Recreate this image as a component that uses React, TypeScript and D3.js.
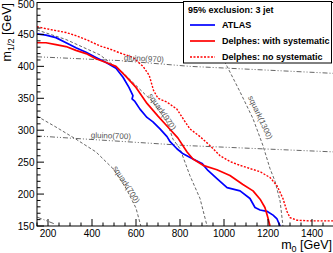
import React from "react";
import * as d3 from "d3";

// ---- data ----
const atlasM0 = [150, 191, 236, 282, 327, 373, 418, 464, 509, 541, 568, 586, 582, 595, 618, 650, 677, 709, 741, 755, 786, 814, 859, 900, 927, 968, 1014, 1073, 1118, 1141, 1164, 1195, 1223, 1241, 1255];
const atlasM12 = [451, 449, 445, 437, 429, 422, 414, 406, 397, 383, 367, 354, 349, 345, 333, 320, 313, 302, 290, 282, 271, 263, 255, 248, 237, 224, 210, 205, 193, 179, 175, 173, 167, 161, 150];

const sysM0 = [150, 191, 236, 282, 327, 373, 418, 464, 509, 555, 600, 650, 700, 750, 790, 832, 859, 905, 968, 1027, 1086, 1132, 1164, 1186, 1198, 1209];
const sysM12 = [437, 437, 434, 431, 425, 420, 412, 406, 400, 384, 367, 342, 322, 303, 288, 266, 255, 245, 238, 229, 215, 205, 192, 179, 165, 150];

const noSysM0 = [150, 191, 236, 282, 327, 373, 436, 482, 527, 586, 632, 660, 680, 700, 741, 786, 814, 845, 891, 936, 982, 1027, 1073, 1118, 1164, 1209, 1241, 1268, 1286, 1300, 1332, 1391, 1500];
const noSysM12 = [462, 459, 456, 453, 448, 442, 432, 427, 421, 414, 400, 386, 362, 350, 344, 333, 318, 302, 290, 276, 260, 251, 245, 240, 235, 226, 213, 193, 173, 163, 159, 158, 158];

const gluino970M0 = [150, 527, 845, 1500];
const gluino970M12 = [415, 409, 400, 389];
const gluino700M0 = [150, 827, 1500];
const gluino700M12 = [291, 276, 266];
const gluinoLowM0 = [150, 232];
const gluinoLowM12 = [164, 153];
const squark700M0 = [150, 236, 327, 418, 495, 555, 600, 622];
const squark700M12 = [322, 305, 286, 266, 240, 209, 178, 150];
const squark970M0 = [150, 282, 436, 541, 618, 677, 741, 768, 800, 845, 891, 923];
const squark970M12 = [457, 442, 418, 390, 364, 344, 313, 286, 271, 229, 193, 150];
const squark1300M0 = [830, 920, 1014, 1073, 1132, 1177, 1209, 1232, 1255, 1268];
const squark1300M12 = [500, 460, 400, 360, 318, 276, 240, 220, 189, 150];

const refLabelTexts = ["gluino(970)", "gluino(700)", "squark(700)", "squark(970)", "squark(1300)"];
const refLabelM0 = [636, 486, 555, 718, 1164];
const refLabelM12 = [412, 291, 215, 329, 320];
const refLabelAngles = [3, 2, 57, 55, 65];

const xMajorTicks = [200, 400, 600, 800, 1000, 1200, 1400];
const yMajorTicks = [150, 200, 250, 300, 350, 400, 450, 500];

const legendTitle = "95% exclusion: 3 jet";
const legendLabels = ["ATLAS", "Delphes: with systematic", "Delphes: no systematic"];

export default function App() {
  const W = 333, H = 253;
  const x = d3.scaleLinear().domain([150, 1500]).range([37, 334]);
  const y = d3.scaleLinear().domain([150, 500]).range([226, 2.5]);
  const line = d3.line<[number, number]>().x(d => x(d[0])).y(d => y(d[1]));
  const zip = (a: number[], b: number[]) => a.map((v, i) => [v, b[i]] as [number, number]);

  const xMinor = d3.range(150, 1501, 50).filter(v => !xMajorTicks.includes(v));
  const yMinor = d3.range(150, 501, 10).filter(v => !yMajorTicks.includes(v));

  const font = "'Liberation Sans', Arial, Helvetica, sans-serif";
  const grey = "#555";
  const x0 = x(150), yb = y(150), yt = y(500), xr = x(1500);

  const series = [
    { d: zip(atlasM0, atlasM12), color: "#0000ff", w: 1.7, dash: undefined as string | undefined },
    { d: zip(sysM0, sysM12), color: "#ff0000", w: 1.7, dash: undefined },
    { d: zip(noSysM0, noSysM12), color: "#ff0000", w: 1.4, dash: "2,1.5" },
  ];

  return (
    <svg width={W} height={H} style={{ position: "absolute", left: 0, top: 0, background: "#fff" }} fontFamily={font}>
      <rect x={0} y={0} width={W} height={H} fill="#fff" />
      <defs>
        <clipPath id="plot">
          <rect x={x0} y={yt} width={xr - x0} height={yb - yt} />
        </clipPath>
      </defs>
      <g clipPath="url(#plot)" fill="none">
        {/* reference contours */}
        <path d={line(zip(gluino970M0, gluino970M12)) || ""} stroke={grey} strokeWidth={0.9} strokeDasharray="5,2,1,2,1,2" />
        <path d={line(zip(gluino700M0, gluino700M12)) || ""} stroke={grey} strokeWidth={0.9} strokeDasharray="5,2,1,2,1,2" />
        <path d={line(zip(gluinoLowM0, gluinoLowM12)) || ""} stroke={grey} strokeWidth={0.9} strokeDasharray="5,2,1,2,1,2" />
        <path d={line(zip(squark700M0, squark700M12)) || ""} stroke={grey} strokeWidth={0.9} strokeDasharray="3,2" />
        <path d={line(zip(squark970M0, squark970M12)) || ""} stroke={grey} strokeWidth={0.9} strokeDasharray="3,2" />
        <path d={line(zip(squark1300M0, squark1300M12)) || ""} stroke={grey} strokeWidth={0.9} strokeDasharray="3,2" />
        {series.map((s, i) => (
          <path key={i} d={line(s.d) || ""} stroke={s.color} strokeWidth={s.w} strokeDasharray={s.dash} strokeLinejoin="round" />
        ))}
      </g>
      {refLabelTexts.map((t, i) => (
        <text key={t} transform={`translate(${x(refLabelM0[i])},${y(refLabelM12[i])}) rotate(${refLabelAngles[i]})`}
          textAnchor="middle" dominantBaseline="central" fontSize={8} fill={grey}>{t}</text>
      ))}
      {/* frame */}
      <rect x={x0} y={yt} width={xr - x0} height={yb - yt} fill="none" stroke="#000" strokeWidth={1} />
      {/* x ticks */}
      {xMajorTicks.map(v => (
        <g key={"xM" + v}>
          <line x1={x(v)} x2={x(v)} y1={yb} y2={yb - 7} stroke="#000" strokeWidth={1} />
          <text x={x(v)} y={yb + 11} textAnchor="middle" fontSize={10} fill="#000">{v}</text>
        </g>
      ))}
      {xMinor.map(v => (
        <line key={"xm" + v} x1={x(v)} x2={x(v)} y1={yb} y2={yb - 3.5} stroke="#000" strokeWidth={1} />
      ))}
      {/* y ticks */}
      {yMajorTicks.map(v => (
        <g key={"yM" + v}>
          <line x1={x0} x2={x0 + 7} y1={y(v)} y2={y(v)} stroke="#000" strokeWidth={1} />
          <text x={x0 - 2.5} y={Math.max(y(v) + 3.6, 8)} textAnchor="end" fontSize={10} fill="#000">{v}</text>
        </g>
      ))}
      {yMinor.map(v => (
        <line key={"ym" + v} x1={x0} x2={x0 + 3.5} y1={y(v)} y2={y(v)} stroke="#000" strokeWidth={1} />
      ))}
      {/* axis titles */}
      <text x={332} y={249} textAnchor="end" fontSize={12.5} fill="#000">
        m<tspan fontSize={9} dy={3}>0</tspan><tspan dy={-3}> [GeV]</tspan>
      </text>
      <text transform={`translate(11,3) rotate(-90)`} textAnchor="end" fontSize={12.5} fill="#000">
        m<tspan fontSize={9} dy={3}>1/2</tspan><tspan dy={-3}> [GeV]</tspan>
      </text>
      {/* legend */}
      <rect x={183.5} y={1.5} width={148} height={61.5} fill="#fff" stroke="#000" strokeWidth={1} />
      <text x={188} y={13} fontSize={9} fontWeight="bold" fill="#000">{legendTitle}</text>
      {legendLabels.map((l, i) => (
        <g key={l}>
          <line x1={190} x2={215} y1={25 + i * 16} y2={25 + i * 16} stroke={series[i].color}
            strokeWidth={series[i].w} strokeDasharray={series[i].dash} />
          <text x={222} y={25 + i * 16 + 3.3} fontSize={9} fontWeight="bold" fill="#000">{l}</text>
        </g>
      ))}
    </svg>
  );
}
